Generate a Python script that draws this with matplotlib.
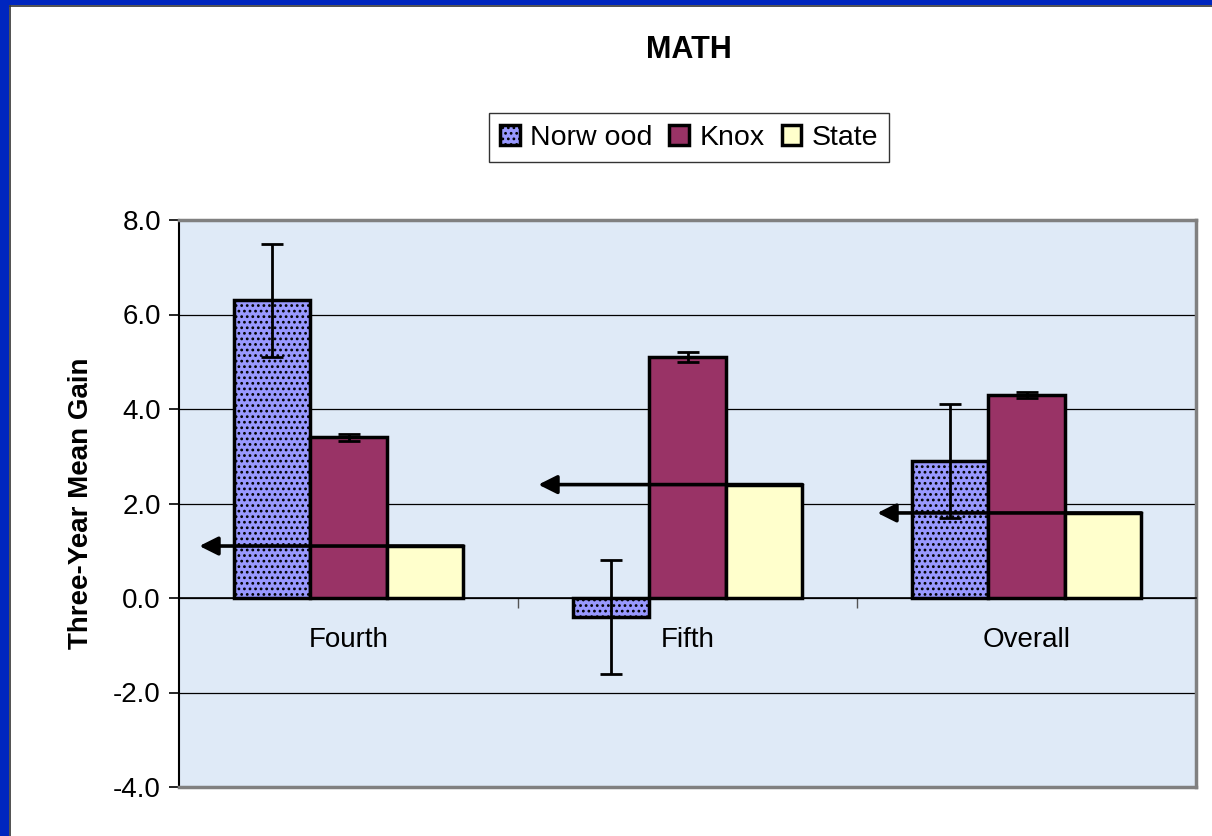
import matplotlib

matplotlib.use("Agg")
import matplotlib.pyplot as plt
import matplotlib.patches as mpatches
import numpy as np

plt.rcParams['font.family'] = ['Liberation Sans', 'DejaVu Sans']
plt.rcParams['axes.unicode_minus'] = False
plt.rcParams['hatch.linewidth'] = 1.2

# data
categories = ["Fourth", "Fifth", "Overall"]
series = ["Norw ood", "Knox", "State"]
norwood = [6.3, -0.4, 2.9]
knox = [3.4, 5.1, 4.3]
state = [1.1, 2.4, 1.8]
norwood_err = [1.2, 1.2, 1.2]
knox_err = [0.08, 0.1, 0.07]
yticks = [-4.0, -2.0, 0.0, 2.0, 4.0, 6.0, 8.0]

fig = plt.figure(figsize=(12.12, 8.36), dpi=100)
fig.patch.set_facecolor("white")

# slide border (blue band on top and left)
fig.patches.append(mpatches.Rectangle((0, 1 - 5 / 836), 1, 5 / 836, transform=fig.transFigure,
                                      facecolor="#0026bf", edgecolor="none", zorder=0))
fig.patches.append(mpatches.Rectangle((0, 0), 9 / 1212, 1, transform=fig.transFigure,
                                      facecolor="#0026bf", edgecolor="none", zorder=0))
fig.lines.append(plt.Line2D([9.5 / 1212, 9.5 / 1212], [0, 1 - 5.5 / 836], transform=fig.transFigure,
                            color="#333333", lw=1.2))
fig.lines.append(plt.Line2D([9.5 / 1212, 1], [1 - 5.5 / 836, 1 - 5.5 / 836], transform=fig.transFigure,
                            color="#333333", lw=1.2))

ax = fig.add_axes([179 / 1212, 49 / 836, (1196 - 179) / 1212, (787 - 220) / 836])
ax.set_facecolor("#dfeaf7")

# spine placement first, it resets the ticks
ax.spines["bottom"].set_position(("data", 0))
ax.spines["bottom"].set_color("black")
ax.spines["bottom"].set_linewidth(1.2)
ax.spines["left"].set_color("black")
ax.spines["left"].set_linewidth(1.5)
for side in ["top", "right"]:
    ax.spines[side].set_color("#808080")
    ax.spines[side].set_linewidth(2.5)

x = np.arange(len(categories))
w = 0.226
colors = ["#9999ff", "#993366", "#ffffcc"]

b1 = ax.bar(x - w, norwood, w, color=colors[0], edgecolor="black", linewidth=2.5, hatch="...", zorder=3)
b2 = ax.bar(x, knox, w, color=colors[1], edgecolor="black", linewidth=2.5, zorder=3)
b3 = ax.bar(x + w, state, w, color=colors[2], edgecolor="black", linewidth=2.5, zorder=3)

ax.errorbar(x - w, norwood, yerr=norwood_err, fmt="none", ecolor="black", elinewidth=2,
            capsize=8, capthick=2, zorder=4)
ax.errorbar(x, knox, yerr=knox_err, fmt="none", ecolor="black", elinewidth=2,
            capsize=8, capthick=2, zorder=4)

# arrows pointing left at the state level
for xi, s in zip(x, state):
    ax.annotate("", xy=(xi - 0.44, s), xytext=(xi + 1.5 * w, s),
                arrowprops=dict(arrowstyle="-|>", lw=2.6, color="black", mutation_scale=28,
                                shrinkA=0, shrinkB=0),
                zorder=5)

ax.set_xlim(-0.5, len(categories) - 0.5)
ax.set_ylim(-4, 8)
ax.set_yticks(yticks)
ax.set_yticklabels(["%.1f" % v for v in yticks], fontsize=20)
ax.tick_params(axis="y", direction="out", length=7, width=1.2, pad=6)
ax.yaxis.grid(True, color="black", lw=0.9, zorder=1)
ax.set_axisbelow(True)

ax.set_xticks([0.5, 1.5])
ax.set_xticklabels([])
ax.set_xticks(x, minor=True)
ax.set_xticklabels(categories, minor=True, fontsize=20)
ax.tick_params(axis="x", which="major", direction="out", length=7, width=1.0, color="#555555")
ax.tick_params(axis="x", which="minor", length=0, pad=21)

ax.axhline(-4, color="#808080", lw=2.5, clip_on=False, zorder=6)

ax.set_ylabel("Three-Year Mean Gain", fontsize=20, fontweight="bold", labelpad=14)
fig.text(689 / 1212, 1 - 50 / 836, "MATH", fontsize=22, fontweight="bold", ha="center", va="center")

leg = fig.legend([b1, b2, b3], series, loc="upper center", bbox_to_anchor=(689 / 1212, 1 - 99 / 836),
                 ncol=3, fontsize=20.5, frameon=True, fancybox=False, handlelength=0.7,
                 handleheight=0.7, handletextpad=0.35, columnspacing=0.6, borderpad=0.4)
leg.get_frame().set_edgecolor("black")
leg.get_frame().set_linewidth(1.0)

fig.savefig("out.png", dpi=100)
